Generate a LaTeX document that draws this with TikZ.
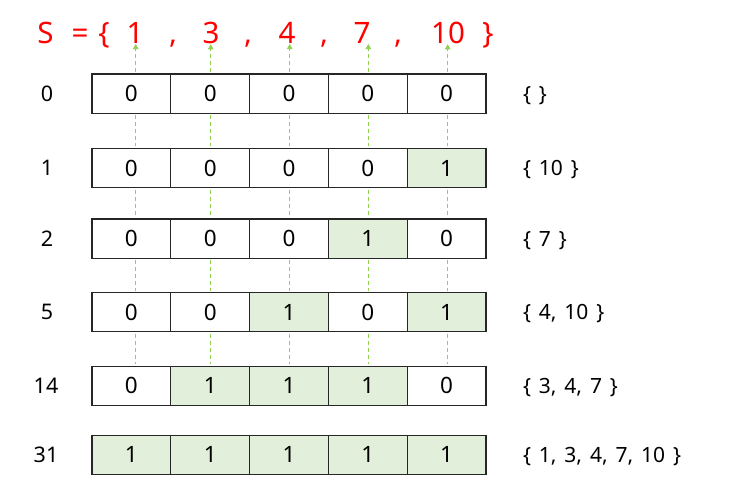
\documentclass[tikz,border=0pt]{standalone}
\usepackage{fontspec}
\setmainfont{Noto Sans}
\newfontfamily\subsetfont{Noto Sans}[WordSpace=1.45]
\usetikzlibrary{arrows.meta}
\definecolor{cellgreen}{HTML}{E2EFDA}
\definecolor{dashgreen}{HTML}{92D050}
\definecolor{setred}{HTML}{FF0000}

\begin{document}
\begin{tikzpicture}[x=1pt,y=-1pt,inner sep=0pt,outer sep=0pt,
	cell/.style={draw=black!85,line width=1.1pt,minimum width=78.8pt,minimum height=39.3pt,font=\fontsize{22.5}{26}\selectfont},
	one/.style={cell,fill=cellgreen},
	title/.style={anchor=base,text=setred,font=\fontsize{29.5}{34}\selectfont},
	rowno/.style={font=\fontsize{21.5}{25}\selectfont},
	subset/.style={anchor=base west,font=\subsetfont\fontsize{21}{24}\selectfont},
	link/.style={draw=dashgreen,line width=0.9pt,dash pattern=on 4pt off 3pt}]
	\useasboundingbox (0,0) rectangle (729,498);
	% the set
	\node[title] (s)  at (45.5,43.5) {S};
	\node[title] (eq) at (80,43.5)   {=};
	\node[title] (lb) at (104,43.5)  {\{};
	\node[title] (t1) at (135,43.5)  {1};
	\node[title] (k1) at (173,43.5)  {,};
	\node[title] (t2) at (211,43.5)  {3};
	\node[title] (k2) at (248,43.5)  {,};
	\node[title] (t3) at (287,43.5)  {4};
	\node[title] (k3) at (324,43.5)  {,};
	\node[title] (t4) at (362,43.5)  {7};
	\node[title] (k4) at (398,43.5)  {,};
	\node[title] (t5) at (448,43.5)  {10};
	\node[title] (rb) at (488,43.5)  {\}};
	% columns of the links
	\coordinate (x1) at (135.7,0);
	\coordinate (x2) at (210.7,0);
	\coordinate (x3) at (289.7,0);
	\coordinate (x4) at (368.3,0);
	\coordinate (x5) at (447.7,0);
	% rows of bits
	\foreach \r/\y/\bits in {0/93.65/{0,0,0,0,0},1/168/{0,0,0,0,1},2/238.65/{0,0,0,1,0},
		3/312.2/{0,0,1,0,1},4/385.7/{0,1,1,1,0},5/454.7/{1,1,1,1,1}}{
		\foreach \b [count=\c] in \bits{
			\ifnum\b=1 \def\sty{one}\else\def\sty{cell}\fi
			\node[\sty] (c\r-\c) at (131.4+78.8*\c-78.8,\y) {\b};
		}
	}
	\node[rowno] (n0) at (47,93.65)  {0};
	\node[rowno] (n1) at (47,168)    {1};
	\node[rowno] (n2) at (47,238.65) {2};
	\node[rowno] (n3) at (47,312.2)  {5};
	\node[rowno] (n4) at (46,385.7)  {14};
	\node[rowno] (n5) at (46,454.7)  {31};
	\node[subset] (m0) at (523,101.2) {\{ \}};
	\node[subset] (m1) at (523,175.5) {\{ 10 \}};
	\node[subset] (m2) at (523,246.2) {\{ 7 \}};
	\node[subset] (m3) at (523,319.7) {\{ 4, 10 \}};
	\node[subset] (m4) at (523,393.2) {\{ 3, 4, 7 \}};
	\node[subset] (m5) at (523,462.2) {\{ 1, 3, 4, 7, 10 \}};
	% links
	\begin{scope}[link]
	\foreach \c in {1,...,5}{
		\draw[-{Triangle[length=5pt,width=5.5pt]},dashgreen,shorten <=2pt,shorten >=0.5pt]
			(c0-\c.north -| x\c) -- (t\c.south -| x\c);
		\foreach \r [evaluate=\r as \s using int(\r+1)] in {0,...,3}
			\draw[shorten <=2pt,shorten >=2pt] (c\r-\c.south -| x\c) -- (c\s-\c.north -| x\c);
	}
	\end{scope}
\end{tikzpicture}
\end{document}
